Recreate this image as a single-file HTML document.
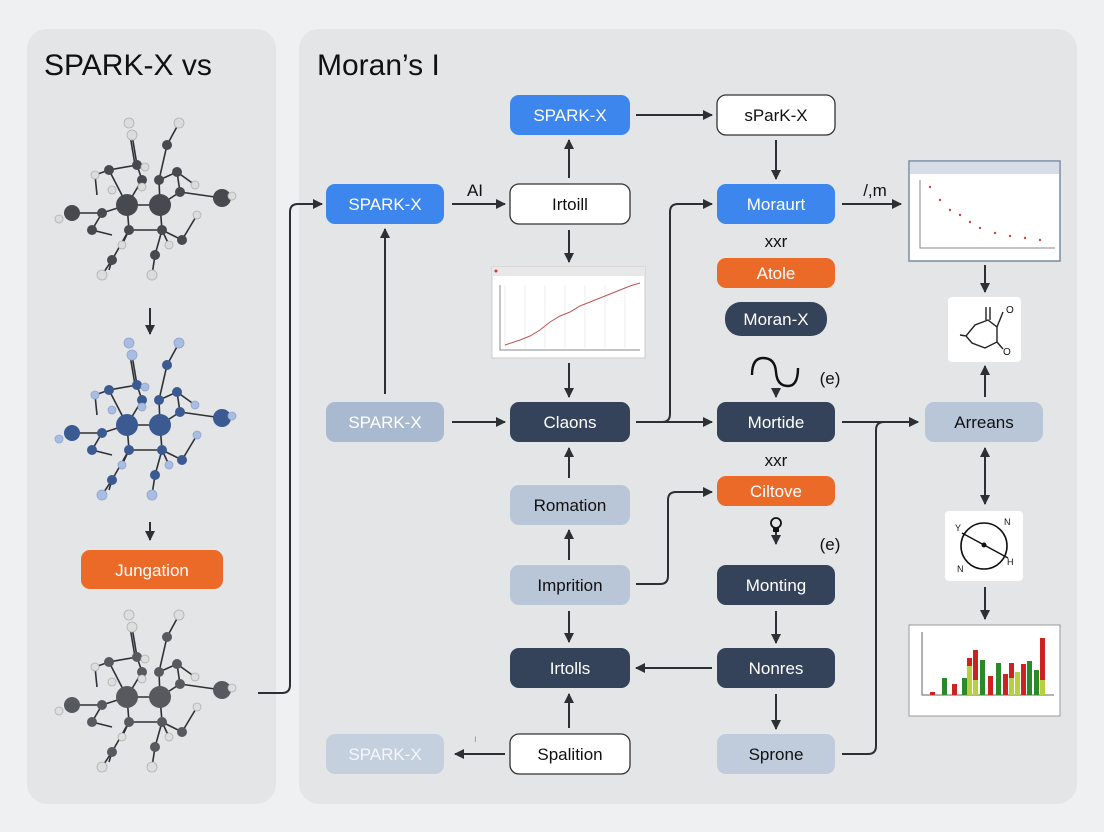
<!DOCTYPE html>
<html><head><meta charset="utf-8"><style>
html,body{margin:0;padding:0;background:#eef0f2;}
svg{display:block;font-family:"Liberation Sans",sans-serif;}
</style></head><body>
<svg width="1104" height="832" viewBox="0 0 1104 832" xmlns="http://www.w3.org/2000/svg">
<defs>
<marker id="ah" viewBox="0 0 10 10" refX="9" refY="5" markerWidth="5" markerHeight="5" orient="auto-start-reverse"><path d="M0,0 L10,5 L0,10 z" fill="#2c2f33"/></marker>
<g id="mol">
 <g stroke="#2e3135" stroke-width="1.6" fill="none">
  <path d="M-20,0 L13,0 M-20,0 L-38,-35 L-10,-40 L-5,-25 L-20,0 M13,0 L12,-25 L30,-33 L33,-13 L13,0 M-20,0 L-45,8 L-55,25 L-35,30 M-20,0 L-18,25 L15,25 L13,0 M-18,25 L-35,55 L-45,70 M15,25 L8,50 L5,70 M33,-13 L75,-7 M-45,8 L-75,8 M-38,-35 L-52,-30 L-50,-10 M-10,-40 L-15,-70 M-12,-40 L-17,-70 M12,-25 L20,-60 L32,-82 M15,25 L35,35 L50,10 M-25,40 L-18,25 M22,40 L15,25 M-35,55 L-38,65 M30,-33 L48,-20"/>
 </g>
 <g fill="var(--d)">
  <circle cx="-20" cy="0" r="11"/><circle cx="13" cy="0" r="11"/>
  <circle cx="-75" cy="8" r="8"/><circle cx="75" cy="-7" r="9"/>
  <circle cx="-38" cy="-35" r="5"/><circle cx="-10" cy="-40" r="5"/><circle cx="-5" cy="-25" r="5"/>
  <circle cx="12" cy="-25" r="5"/><circle cx="30" cy="-33" r="5"/><circle cx="33" cy="-13" r="5"/>
  <circle cx="-45" cy="8" r="5"/><circle cx="-55" cy="25" r="5"/><circle cx="-18" cy="25" r="5"/>
  <circle cx="15" cy="25" r="5"/><circle cx="-35" cy="55" r="5"/><circle cx="8" cy="50" r="5"/>
  <circle cx="20" cy="-60" r="5"/><circle cx="35" cy="35" r="5"/>
 </g>
 <g fill="var(--l)" stroke="var(--s)" stroke-width="0.8">
  <circle cx="-18" cy="-82" r="5"/><circle cx="-15" cy="-70" r="5"/><circle cx="32" cy="-82" r="5"/>
  <circle cx="-52" cy="-30" r="4"/><circle cx="-88" cy="14" r="4"/><circle cx="48" cy="-20" r="4"/>
  <circle cx="50" cy="10" r="4"/><circle cx="-25" cy="40" r="4"/><circle cx="22" cy="40" r="4"/>
  <circle cx="-45" cy="70" r="5"/><circle cx="5" cy="70" r="5"/><circle cx="-35" cy="-15" r="4"/>
  <circle cx="85" cy="-9" r="4"/><circle cx="-2" cy="-38" r="4"/><circle cx="-5" cy="-18" r="4"/>
 </g>
</g>
</defs>

<rect x="0" y="0" width="1104" height="832" fill="#eef0f2"/>
<rect x="27" y="29" width="249" height="775" rx="20" fill="#e3e5e7"/>
<rect x="299" y="29" width="778" height="775" rx="20" fill="#e3e5e7"/>

<text x="44" y="75" font-size="30" fill="#111">SPARK-X vs</text>
<text x="317" y="75" font-size="30" fill="#111">Moran’s I</text>

<use href="#mol" x="147" y="205" style="--d:#46494e;--l:#dcdcdc;--s:#b0b0b0"/>
<use href="#mol" x="147" y="425" style="--d:#3b5a92;--l:#a9bde3;--s:#8fa3cc"/>
<use href="#mol" x="147" y="697" style="--d:#56595e;--l:#dedede;--s:#b0b0b0"/>

<g stroke="#2c2f33" stroke-width="2" fill="none" marker-end="url(#ah)">
 <path d="M150,308 L150,334"/>
 <path d="M150,522 L150,540"/>
 <path d="M258,693 L282,693 Q290,693 290,685 L290,212 Q290,204 298,204 L322,204"/>
 <path d="M385,394 L385,229"/>
 <path d="M452,204 L505,204"/>
 <path d="M569,178 L569,140"/>
 <path d="M636,115 L712,115"/>
 <path d="M776,140 L776,179"/>
 <path d="M569,230 L569,262"/>
 <path d="M569,363 L569,397"/>
 <path d="M452,422 L505,422"/>
 <path d="M636,422 L712,422"/>
 <path d="M636,422 L662,422 Q670,422 670,414 L670,212 Q670,204 678,204 L712,204"/>
 <path d="M842,204 L901,204"/>
 <path d="M776,388 L776,397"/>
 <path d="M776,530 L776,544"/>
 <path d="M569,478 L569,448"/>
 <path d="M569,560 L569,530"/>
 <path d="M569,611 L569,642"/>
 <path d="M569,728 L569,694"/>
 <path d="M636,584 L660,584 Q668,584 668,576 L668,500 Q668,492 676,492 L712,492"/>
 <path d="M776,611 L776,643"/>
 <path d="M776,694 L776,729"/>
 <path d="M712,668 L636,668"/>
 <path d="M505,754 L455,754"/>
 <path d="M842,422 L918,422"/>
 <path d="M842,754 L868,754 Q876,754 876,746 L876,430 Q876,422 884,422 L918,422"/>
 <path d="M985,265 L985,292"/>
 <path d="M985,397 L985,366"/>
 <path d="M985,448 L985,504" marker-start="url(#ah)"/>
 <path d="M985,587 L985,619"/>
</g>

<g font-size="17" text-anchor="middle">
 <rect x="510" y="95" width="120" height="40" rx="9" fill="#3d86ee"/><text x="570" y="121" fill="#fff">SPARK-X</text>
 <rect x="717" y="95" width="118" height="40" rx="9" fill="#fff" stroke="#333" stroke-width="1.3"/><text x="776" y="121" fill="#111">sParK-X</text>
 <rect x="326" y="184" width="118" height="40" rx="9" fill="#3d86ee"/><text x="385" y="210" fill="#fff">SPARK-X</text>
 <rect x="510" y="184" width="120" height="40" rx="9" fill="#fff" stroke="#333" stroke-width="1.3"/><text x="570" y="210" fill="#111">Irtoill</text>
 <rect x="717" y="184" width="118" height="40" rx="9" fill="#3d86ee"/><text x="776" y="210" fill="#fff">Moraurt</text>
 <text x="776" y="247" fill="#111">xxr</text>
 <rect x="717" y="258" width="118" height="30" rx="9" fill="#ec6a27"/><text x="776" y="279" fill="#fff">Atole</text>
 <rect x="725" y="302" width="102" height="34" rx="16" fill="#34425a"/><text x="776" y="325" fill="#fff">Moran-X</text>
 <text x="830" y="384" fill="#111">(e)</text>
 <rect x="326" y="402" width="118" height="40" rx="9" fill="#a9b9d0"/><text x="385" y="428" fill="#fff">SPARK-X</text>
 <rect x="510" y="402" width="120" height="40" rx="9" fill="#34425a"/><text x="570" y="428" fill="#fff">Claons</text>
 <rect x="717" y="402" width="118" height="40" rx="9" fill="#34425a"/><text x="776" y="428" fill="#fff">Mortide</text>
 <rect x="925" y="402" width="118" height="40" rx="9" fill="#b9c6d8"/><text x="984" y="428" fill="#111">Arreans</text>
 <text x="776" y="466" fill="#111">xxr</text>
 <rect x="717" y="476" width="118" height="30" rx="9" fill="#ec6a27"/><text x="776" y="497" fill="#fff">Ciltove</text>
 <text x="830" y="550" fill="#111">(e)</text>
 <rect x="510" y="485" width="120" height="40" rx="9" fill="#b9c6d8"/><text x="570" y="511" fill="#111">Romation</text>
 <rect x="510" y="565" width="120" height="40" rx="9" fill="#b9c6d8"/><text x="570" y="591" fill="#111">Imprition</text>
 <rect x="717" y="565" width="118" height="40" rx="9" fill="#34425a"/><text x="776" y="591" fill="#fff">Monting</text>
 <rect x="510" y="648" width="120" height="40" rx="9" fill="#34425a"/><text x="570" y="674" fill="#fff">Irtolls</text>
 <rect x="717" y="648" width="118" height="40" rx="9" fill="#34425a"/><text x="776" y="674" fill="#fff">Nonres</text>
 <rect x="326" y="734" width="118" height="40" rx="9" fill="#c5d0df"/><text x="385" y="760" fill="#f4f6f9">SPARK-X</text>
 <rect x="510" y="734" width="120" height="40" rx="9" fill="#fff" stroke="#333" stroke-width="1.3"/><text x="570" y="760" fill="#111">Spalition</text>
 <rect x="717" y="734" width="118" height="40" rx="9" fill="#c0cbdb"/><text x="776" y="760" fill="#111">Sprone</text>
 <rect x="81" y="550" width="142" height="39" rx="9" fill="#ec6a27"/><text x="152" y="576" fill="#fff">Jungation</text>
 <text x="475" y="196" fill="#111">AI</text>
 <text x="875" y="196" fill="#111">/,m</text>
</g>
<text x="474" y="742" font-size="10" fill="#999">ı</text>

<path d="M752,375 Q752,358 763,358 Q775,358 776,372 Q777,386 788,386 Q798,386 798,368" stroke="#111" stroke-width="2.4" fill="none"/>
<circle cx="776" cy="523" r="5" fill="none" stroke="#111" stroke-width="1.8"/><rect x="773" y="528" width="6" height="4" fill="#111"/>

<rect x="492" y="267" width="153" height="91" fill="#fff" stroke="#ccc"/>
<rect x="492" y="267" width="153" height="9" fill="#e8e8e8"/>
<circle cx="496" cy="271" r="1.5" fill="#d33"/>
<g stroke="#eee"><path d="M505,285 V348 M525,285 V348 M545,285 V348 M565,285 V348 M585,285 V348 M605,285 V348 M625,285 V348"/></g>
<path d="M500,285 V350 H640" stroke="#888" fill="none"/>
<path d="M505,345 L520,340 L530,336 L540,330 L550,322 L560,316 L570,312 L580,306 L590,302 L600,298 L610,294 L620,290 L630,286 L640,283" stroke="#b55" stroke-width="1" fill="none"/>

<rect x="909" y="161" width="151" height="100" fill="#fff" stroke="#7b8aa3" stroke-width="1.5"/>
<rect x="910" y="162" width="149" height="12" fill="#d6dde8"/>
<path d="M920,180 V248 H1055" stroke="#888" fill="none"/>
<g fill="#c44"><circle cx="930" cy="187" r="1.2"/><circle cx="940" cy="200" r="1.2"/><circle cx="950" cy="210" r="1.2"/><circle cx="960" cy="215" r="1.2"/><circle cx="970" cy="222" r="1.2"/><circle cx="980" cy="228" r="1.2"/><circle cx="995" cy="233" r="1.2"/><circle cx="1010" cy="236" r="1.2"/><circle cx="1025" cy="238" r="1.2"/><circle cx="1040" cy="240" r="1.2"/></g>

<rect x="948" y="297" width="73" height="65" rx="4" fill="#fff"/>
<path d="M960,335 L966,336 L975,325 L988,320 L997,327 L997,342 L985,348 L972,343 L966,336 M986,320 L986,307 M990,320 L990,307 M997,327 L1003,312 M997,342 L1003,349" stroke="#222" stroke-width="1.4" fill="none"/>
<text x="1006" y="313" font-size="10" fill="#111">O</text><text x="1003" y="355" font-size="10" fill="#111">O</text>

<rect x="945" y="511" width="78" height="70" rx="4" fill="#fff"/>
<circle cx="984" cy="546" r="23" fill="none" stroke="#111" stroke-width="1.6"/>
<path d="M962,533 L1008,558" stroke="#111" stroke-width="1.4"/><circle cx="984" cy="545" r="2.5" fill="#111"/>
<text x="955" y="531" font-size="9" fill="#111">Y</text><text x="1004" y="525" font-size="9" fill="#111">N</text>
<text x="1007" y="565" font-size="9" fill="#111">H</text><text x="957" y="572" font-size="9" fill="#111">N</text>

<rect x="909" y="625" width="151" height="91" fill="#fff" stroke="#999"/>
<path d="M922,632 V695 H1054" stroke="#666" fill="none"/>
<g>
<rect x="930" y="692" width="5" height="3" fill="#c22"/>
<rect x="942" y="678" width="5" height="17" fill="#2a8a2a"/>
<rect x="952" y="684" width="5" height="11" fill="#c22"/>
<rect x="962" y="678" width="5" height="17" fill="#2a8a2a"/>
<rect x="967" y="658" width="5" height="37" fill="#b8d040"/><rect x="967" y="658" width="5" height="8" fill="#c22"/>
<rect x="973" y="650" width="5" height="45" fill="#c22"/><rect x="973" y="680" width="5" height="15" fill="#b8d040"/>
<rect x="980" y="660" width="5" height="35" fill="#2a8a2a"/>
<rect x="988" y="676" width="5" height="19" fill="#c22"/>
<rect x="996" y="663" width="5" height="32" fill="#2a8a2a"/>
<rect x="1003" y="674" width="5" height="21" fill="#c22"/>
<rect x="1009" y="663" width="5" height="32" fill="#c22"/><rect x="1009" y="678" width="5" height="17" fill="#b8d040"/>
<rect x="1015" y="672" width="5" height="23" fill="#b8d040"/>
<rect x="1021" y="664" width="5" height="31" fill="#c22"/>
<rect x="1027" y="661" width="5" height="34" fill="#2a8a2a"/>
<rect x="1034" y="670" width="5" height="25" fill="#2a8a2a"/>
<rect x="1040" y="638" width="5" height="57" fill="#c22"/><rect x="1040" y="680" width="5" height="15" fill="#b8d040"/>
</g>
</svg>
</body></html>
